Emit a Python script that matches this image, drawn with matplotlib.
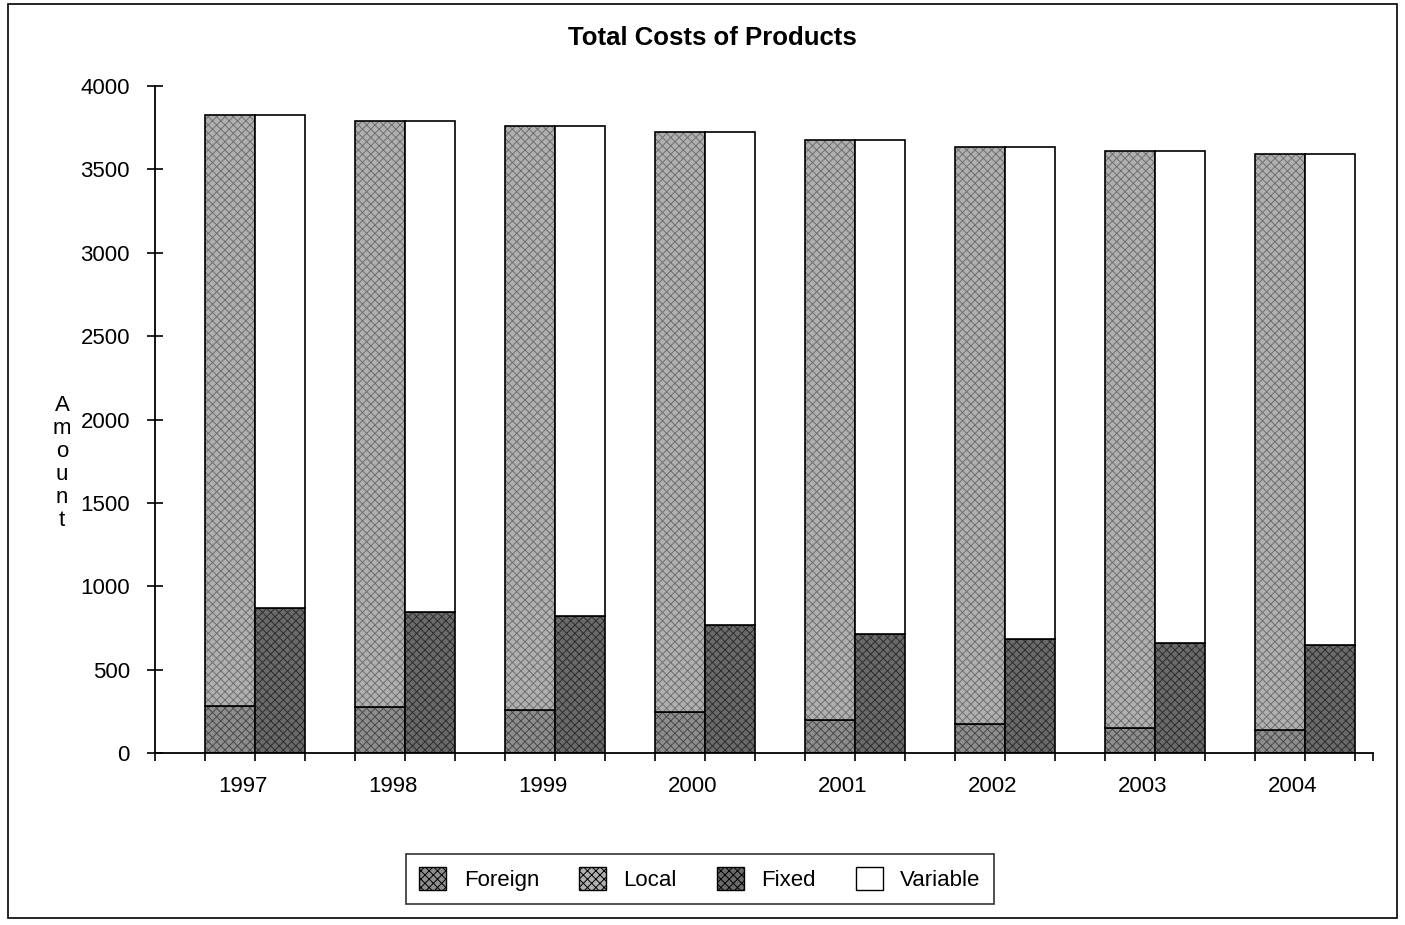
import matplotlib
matplotlib.use("Agg")
import matplotlib.pyplot as plt
from matplotlib.patches import Rectangle, Patch
import numpy as np

years = ["1997", "1998", "1999", "2000", "2001", "2002", "2003", "2004"]
foreign = [284, 276, 258, 246, 198, 174, 150, 138]
local = [3542, 3516, 3502, 3478, 3478, 3460, 3460, 3454]
fixed = [872, 848, 822, 768, 712, 684, 660, 648]
variable = [2954, 2944, 2938, 2956, 2964, 2950, 2950, 2944]
y_ticks = [0, 500, 1000, 1500, 2000, 2500, 3000, 3500, 4000]

plt.rcParams["font.family"] = ["Liberation Sans", "DejaVu Sans"]
plt.rcParams["hatch.linewidth"] = 0.7

W, H = 1405, 925
fig = plt.figure(figsize=(W / 100, H / 100), dpi=100)

# outer chart frame
fig.patches.append(Rectangle((8 / W, 1 - 918 / H), (1397 - 8) / W, (918 - 4) / H,
                             transform=fig.transFigure, fill=False,
                             edgecolor="black", linewidth=1.2))

ax = fig.add_axes([155 / W, 1 - 753 / H, (1373 - 155) / W, 667 / H])

styles = {
    "Foreign": dict(facecolor="#8e8e8e", hatch="xxxx", hatch_color="#4a4a4a"),
    "Local": dict(facecolor="#b0b0b0", hatch="xxxx", hatch_color="#707070"),
    "Fixed": dict(facecolor="#6a6a6a", hatch="xxxx", hatch_color="#2e2e2e"),
    "Variable": dict(facecolor="white", hatch=None, hatch_color="black"),
}

idx = np.arange(len(years))
left_x = 1.5 + 3 * idx
right_x = 2.5 + 3 * idx


def draw(x, vals, bottom, name):
    st = styles[name]
    bars = ax.bar(x, vals, width=1.0, bottom=bottom, facecolor=st["facecolor"],
                  edgecolor="black", linewidth=1.2, hatch=st["hatch"], zorder=2)
    for b in bars:
        b._hatch_color = matplotlib.colors.to_rgba(st["hatch_color"])
    return bars


draw(left_x, foreign, 0, "Foreign")
draw(left_x, local, foreign, "Local")
draw(right_x, fixed, 0, "Fixed")
draw(right_x, variable, fixed, "Variable")

ax.set_xlim(0, 24.36)
ax.set_ylim(0, 4000)
for s in ("top", "right"):
    ax.spines[s].set_visible(False)
ax.spines["left"].set_linewidth(1.3)
ax.spines["bottom"].set_linewidth(1.3)

ax.set_yticks(y_ticks)
ax.set_yticklabels([str(v) for v in y_ticks], fontsize=16)
ax.tick_params(axis="y", direction="inout", length=12, width=1.2, pad=12)

ax.set_xticks(list(np.arange(0, 25)) + [24.36])
ax.set_xticklabels([])
ax.tick_params(axis="x", direction="out", length=6, width=1.2)
for i, yr in enumerate(years):
    ax.text(1.76 + 3 * i, -0.035, yr, transform=ax.get_xaxis_transform(),
            ha="center", va="top", fontsize=16)

fig.text(712 / W, 1 - 38 / H, "Total Costs of Products", ha="center",
         va="center", fontsize=18.5, fontweight="bold")
fig.text(62 / W, 1 - 463 / H, "A\nm\no\nu\nn\nt", ha="center", va="center",
         fontsize=16, linespacing=1.12)

handles = []
for name in ["Foreign", "Local", "Fixed", "Variable"]:
    st = styles[name]
    p = Patch(facecolor=st["facecolor"], edgecolor="black", linewidth=1.0,
              hatch=st["hatch"], label=name)
    handles.append(p)
leg = fig.legend(handles=handles, loc="center", ncol=4,
                 bbox_to_anchor=(700 / W, 1 - 879 / H), fontsize=16,
                 frameon=True, fancybox=False, edgecolor="black",
                 handlelength=1.2, handleheight=1.2, columnspacing=1.8,
                 handletextpad=0.8, borderpad=0.6)
leg.get_frame().set_linewidth(1.2)

fig.savefig("out.png", dpi=100)
